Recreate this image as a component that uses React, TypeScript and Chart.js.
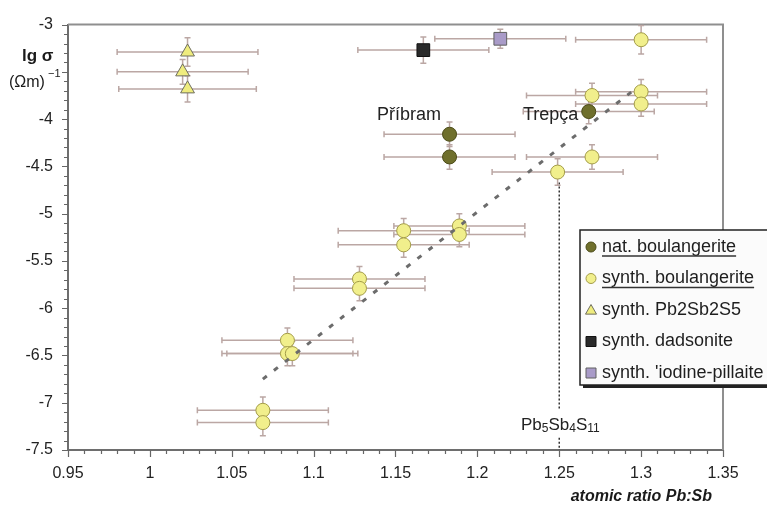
import React, { useEffect, useRef } from 'react';
import { Chart, registerables } from 'chart.js';
Chart.register(...registerables);

const FONT = '"Liberation Sans", Arial, sans-serif';

// nat. boulangerite
const natX = [1.183, 1.183, 1.268];
const natY = [-4.16, -4.40, -3.92];
const natXErr = [0.04, 0.04, 0.04];
const natYErr = [0.13, 0.13, 0.13];

// synth. boulangerite
const synX = [1.300, 1.270, 1.300, 1.300, 1.270, 1.249, 1.155, 1.155, 1.189, 1.189, 1.128, 1.128, 1.084, 1.084, 1.087, 1.069, 1.069];
const synY = [-3.16, -3.75, -3.71, -3.84, -4.40, -4.56, -5.18, -5.33, -5.13, -5.22, -5.69, -5.79, -6.34, -6.48, -6.48, -7.08, -7.21];
const synXErr = [0.04, 0.04, 0.04, 0.04, 0.04, 0.04, 0.04, 0.04, 0.04, 0.04, 0.04, 0.04, 0.04, 0.04, 0.04, 0.04, 0.04];
const synYErr = [0.15, 0.13, 0.13, 0.13, 0.13, 0.14, 0.13, 0.13, 0.13, 0.13, 0.13, 0.13, 0.13, 0.13, 0.13, 0.14, 0.14];

// synth. Pb2Sb2S5
const triX = [1.023, 1.020, 1.023];
const triY = [-3.29, -3.50, -3.68];
const triXErr = [0.043, 0.04, 0.042];
const triYErr = [0.15, 0.13, 0.14];

// synth. dadsonite
const dadX = [1.167];
const dadY = [-3.27];
const dadXErr = [0.04];
const dadYErr = [0.14];

// synth. 'iodine-pillaite'
const iodX = [1.214];
const iodY = [-3.15];
const iodXErr = [0.04];
const iodYErr = [0.1];

// trend line
const trendX = [1.069, 1.295];
const trendY = [-6.75, -3.70];

const xTickValues = [0.95, 1, 1.05, 1.1, 1.15, 1.2, 1.25, 1.3, 1.35];
const yTickValues = [-3, -4, -4.5, -5, -5.5, -6, -6.5, -7, -7.5];

const legendLabels = ['nat. boulangerite', 'synth. boulangerite', 'synth. Pb2Sb2S5', 'synth. dadsonite', "synth. 'iodine-pillaite"];

const toPts = (xs: number[], ys: number[]) => xs.map((x, i) => ({ x, y: ys[i] }));

const errSeries = [
  { xs: triX, ys: triY, xe: triXErr, ye: triYErr },
  { xs: dadX, ys: dadY, xe: dadXErr, ye: dadYErr },
  { xs: iodX, ys: iodY, xe: iodXErr, ye: iodYErr },
  { xs: synX, ys: synY, xe: synXErr, ye: synYErr },
  { xs: natX, ys: natY, xe: natXErr, ye: natYErr },
];

const styles = {
  nat: { fill: '#6f6f2c', stroke: '#4b4b18' },
  syn: { fill: '#f1ef8c', stroke: '#a39c48' },
  tri: { fill: '#efec7e', stroke: '#6e6e60' },
  dad: { fill: '#2a2a2a', stroke: '#111111' },
  iod: { fill: '#a99bc8', stroke: '#606060' },
};

function drawMarker(ctx: CanvasRenderingContext2D, kind: string, cx: number, cy: number, s: number) {
  const st = (styles as any)[kind];
  ctx.save();
  ctx.fillStyle = st.fill;
  ctx.strokeStyle = st.stroke;
  ctx.lineWidth = 1;
  ctx.beginPath();
  if (kind === 'nat' || kind === 'syn') {
    ctx.arc(cx, cy, s, 0, Math.PI * 2);
  } else if (kind === 'tri') {
    ctx.moveTo(cx, cy - s);
    ctx.lineTo(cx + s, cy + s * 0.75);
    ctx.lineTo(cx - s, cy + s * 0.75);
    ctx.closePath();
  } else {
    ctx.rect(cx - s, cy - s, 2 * s, 2 * s);
  }
  ctx.fill();
  ctx.stroke();
  ctx.restore();
}

const customPlugin = {
  id: 'customDraw',
  beforeDatasetsDraw(chart: any) {
    const { ctx, chartArea: ca } = chart;
    const xs = chart.scales.x;
    const ys = chart.scales.y;
    ctx.save();
    // top & right frame
    ctx.strokeStyle = '#8f8f8f';
    ctx.lineWidth = 2;
    ctx.beginPath();
    ctx.moveTo(ca.left, ca.top);
    ctx.lineTo(ca.right, ca.top);
    ctx.lineTo(ca.right, ca.bottom);
    ctx.stroke();

    // vertical dotted line at Pb5Sb4S11
    const px = xs.getPixelForValue(1.25);
    ctx.strokeStyle = '#333';
    ctx.lineWidth = 1.5;
    ctx.setLineDash([2, 2]);
    ctx.beginPath();
    ctx.moveTo(px, ys.getPixelForValue(-4.67));
    ctx.lineTo(px, ys.getPixelForValue(-7.06));
    ctx.moveTo(px, ys.getPixelForValue(-7.37));
    ctx.lineTo(px, ca.bottom);
    ctx.stroke();
    ctx.setLineDash([]);

    // error bars
    ctx.strokeStyle = '#bba7a4';
    ctx.lineWidth = 1.5;
    for (const s of errSeries) {
      for (let i = 0; i < s.xs.length; i++) {
        const cx = xs.getPixelForValue(s.xs[i]);
        const cy = ys.getPixelForValue(s.ys[i]);
        const x0 = xs.getPixelForValue(s.xs[i] - s.xe[i]);
        const x1 = xs.getPixelForValue(s.xs[i] + s.xe[i]);
        const y0 = ys.getPixelForValue(s.ys[i] - s.ye[i]);
        const y1 = ys.getPixelForValue(s.ys[i] + s.ye[i]);
        ctx.beginPath();
        ctx.moveTo(x0, cy); ctx.lineTo(x1, cy);
        ctx.moveTo(x0, cy - 3); ctx.lineTo(x0, cy + 3);
        ctx.moveTo(x1, cy - 3); ctx.lineTo(x1, cy + 3);
        ctx.moveTo(cx, y0); ctx.lineTo(cx, y1);
        ctx.moveTo(cx - 3, y0); ctx.lineTo(cx + 3, y0);
        ctx.moveTo(cx - 3, y1); ctx.lineTo(cx + 3, y1);
        ctx.stroke();
      }
    }
    ctx.restore();
  },
  afterDraw(chart: any) {
    const { ctx, chartArea: ca } = chart;
    const xs = chart.scales.x;
    const ys = chart.scales.y;
    ctx.save();
    // tick marks
    ctx.strokeStyle = '#666';
    ctx.lineWidth = 1.2;
    ctx.beginPath();
    for (let k = 0; k <= 45; k++) {
      const v = -7.5 + k * 0.1;
      const py = Math.round(ys.getPixelForValue(v)) + 0.5;
      const major = k % 5 === 0;
      ctx.moveTo(ca.left - (major ? 6 : 4), py);
      ctx.lineTo(ca.left, py);
    }
    for (let k = 0; k <= 40; k++) {
      const v = 0.95 + k * 0.01;
      const px = Math.round(xs.getPixelForValue(v)) + 0.5;
      const major = k % 5 === 0;
      ctx.moveTo(px, ca.bottom);
      ctx.lineTo(px, ca.bottom + (major ? 7 : 4));
    }
    ctx.stroke();

    // axis titles
    ctx.fillStyle = '#1a1a1a';
    ctx.textBaseline = 'middle';
    ctx.textAlign = 'left';
    ctx.font = `bold 17px ${FONT}`;
    ctx.fillText('lg σ', 22, 56);
    ctx.font = `16px ${FONT}`;
    ctx.fillText('(Ωm)', 9, 83);
    ctx.font = `11px ${FONT}`;
    ctx.fillText('−1', 48, 74);
    ctx.font = `italic bold 16px ${FONT}`;
    ctx.textAlign = 'right';
    ctx.fillText('atomic ratio Pb:Sb', 712, 497);

    // locality labels
    ctx.font = `18px ${FONT}`;
    ctx.textAlign = 'left';
    ctx.fillStyle = '#222';
    ctx.fillText('Příbram', 377, 115);
    ctx.fillText('Trepça', 523, 115);

    // Pb5Sb4S11 label
    let tx = 521;
    const ty = 425;
    const parts: [string, boolean][] = [['Pb', false], ['5', true], ['Sb', false], ['4', true], ['S', false], ['11', true]];
    for (const [t, sub] of parts) {
      ctx.font = sub ? `12px ${FONT}` : `17px ${FONT}`;
      ctx.fillText(t, tx, sub ? ty + 4 : ty);
      tx += ctx.measureText(t).width;
    }

    // legend
    const lx = 580, ly = 230, lw = 220, lh = 155;
    ctx.fillStyle = '#222';
    ctx.fillRect(lx + 3, ly + 3, lw, lh);
    ctx.fillStyle = '#fbfbfb';
    ctx.fillRect(lx, ly, lw, lh);
    ctx.strokeStyle = '#222';
    ctx.lineWidth = 1.5;
    ctx.strokeRect(lx, ly, lw, lh);
    const kinds = ['nat', 'syn', 'tri', 'dad', 'iod'];
    ctx.font = `18px ${FONT}`;
    for (let i = 0; i < legendLabels.length; i++) {
      const cy = 247 + i * 31.5;
      const k = kinds[i];
      drawMarker(ctx, k, 591, cy, k === 'tri' ? 5.5 : 5);
      ctx.fillStyle = '#1e1e1e';
      ctx.textBaseline = 'middle';
      ctx.textAlign = 'left';
      ctx.fillText(legendLabels[i], 602, cy);
      if (i < 2) {
        const w = ctx.measureText(legendLabels[i]).width;
        ctx.strokeStyle = '#333';
        ctx.lineWidth = 1.3;
        ctx.beginPath();
        ctx.moveTo(602, cy + 9);
        ctx.lineTo(602 + w, cy + 9);
        ctx.stroke();
      }
    }
    ctx.restore();
  },
};

export default function App() {
  const ref = useRef<HTMLCanvasElement | null>(null);
  useEffect(() => {
    if (!ref.current) return;
    Chart.defaults.font.family = FONT;
    const mk = (label: string, xs: number[], yv: number[], kind: string, pointStyle: string, radius: number, order: number) => ({
      label,
      data: toPts(xs, yv),
      pointStyle,
      pointRadius: radius,
      pointHoverRadius: radius,
      backgroundColor: (styles as any)[kind].fill,
      borderColor: (styles as any)[kind].stroke,
      borderWidth: 1,
      order,
    });
    const chart = new Chart(ref.current, {
      type: 'scatter',
      data: {
        datasets: [
          {
            label: 'trend',
            data: toPts(trendX, trendY),
            showLine: true,
            borderColor: '#6c6c6c',
            borderWidth: 3,
            borderDash: [5, 9],
            pointRadius: 0,
            order: 0,
          } as any,
          mk(legendLabels[0], natX, natY, 'nat', 'circle', 7, 1),
          mk(legendLabels[1], synX, synY, 'syn', 'circle', 7, 2),
          mk(legendLabels[2], triX, triY, 'tri', 'triangle', 8, 3),
          mk(legendLabels[3], dadX, dadY, 'dad', 'rect', 9, 4),
          mk(legendLabels[4], iodX, iodY, 'iod', 'rect', 9, 5),
        ],
      },
      options: {
        animation: false,
        responsive: false,
        maintainAspectRatio: false,
        layout: { padding: { top: 18, right: 44, left: 0, bottom: 0 } },
        plugins: { legend: { display: false }, tooltip: { enabled: false } },
        scales: {
          x: {
            type: 'linear',
            min: 0.95,
            max: 1.35,
            afterFit: (s: any) => { s.height = 61; },
            afterBuildTicks: (s: any) => { s.ticks = xTickValues.map((v) => ({ value: v })); },
            ticks: {
              padding: 14,
              color: '#222',
              font: { size: 16, family: FONT },
              maxRotation: 0,
              autoSkip: false,
              callback: (v: any) => String(Math.round(Number(v) * 100) / 100),
            },
            grid: { display: true, drawOnChartArea: false, drawTicks: false },
            border: { display: true, color: '#6e6e6e', width: 2 },
          },
          y: {
            type: 'linear',
            min: -7.5,
            max: -3,
            afterFit: (s: any) => { s.width = 68; },
            afterBuildTicks: (s: any) => { s.ticks = yTickValues.map((v) => ({ value: v })); },
            ticks: {
              padding: 15,
              color: '#222',
              font: { size: 16, family: FONT },
              autoSkip: false,
              callback: (v: any) => String(Math.round(Number(v) * 10) / 10),
            },
            grid: { display: true, drawOnChartArea: false, drawTicks: false },
            border: { display: true, color: '#6e6e6e', width: 2 },
          },
        },
      },
      plugins: [customPlugin],
    } as any);
    return () => chart.destroy();
  }, []);
  return (
    <div style={{ position: 'fixed', left: 0, top: 0, width: 767, height: 511, background: '#fff' }}>
      <canvas ref={ref} width={767} height={511} style={{ width: 767, height: 511, display: 'block' }} />
    </div>
  );
}
